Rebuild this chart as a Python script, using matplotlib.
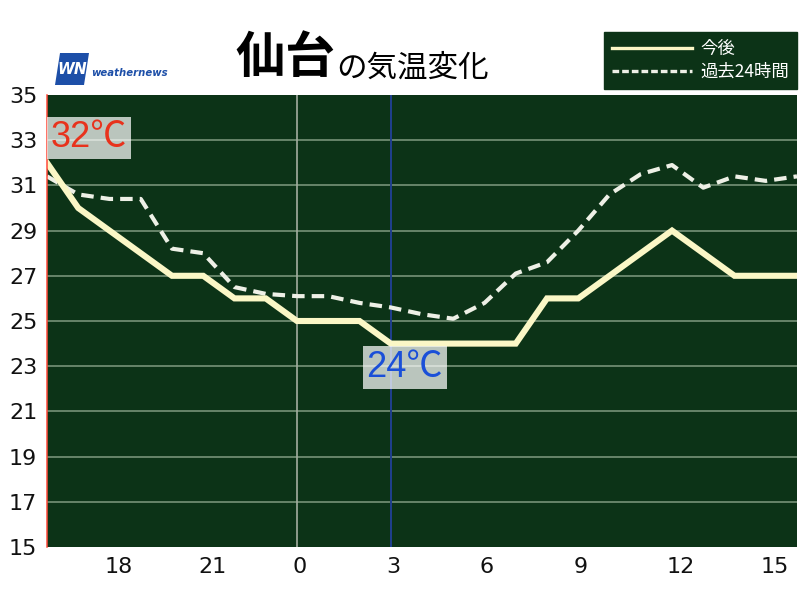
import matplotlib
matplotlib.use("Agg")
import matplotlib.pyplot as plt
from matplotlib.lines import Line2D
from matplotlib.patches import Polygon
from matplotlib.transforms import ScaledTranslation

# Hourly temperatures from 16:00 through 16:00 the next day
hour_index = list(range(25))
forecast = [32, 30, 29, 28, 27, 27, 26, 26, 25, 25, 25, 24, 24,
            24, 24, 24, 26, 26, 27, 28, 29, 28, 27, 27, 27]
past24 = [31.4, 30.6, 30.4, 30.4, 28.2, 28.0, 26.5, 26.2, 26.1, 26.1, 25.8,
          25.6, 25.3, 25.1, 25.8, 27.1, 27.6, 29.0, 30.6, 31.5, 31.9, 30.9,
          31.4, 31.2, 31.4]
tick_pos = [2, 5, 8, 11, 14, 17, 20, 23]
tick_labels = ["18", "21", "0", "3", "6", "9", "12", "15"]
y_ticks = list(range(15, 36, 2))
max_idx, max_val = 0, 32
min_idx, min_val = 11, 24

CJK = ["Noto Sans CJK JP", "DejaVu Sans"]
BG = "#0c3317"

fig = plt.figure(figsize=(8, 6), dpi=100)
fig.patch.set_facecolor("white")
ax = fig.add_axes([47 / 800, 1 - 547 / 600, 750 / 800, 452 / 600])
ax.set_facecolor(BG)
ax.set_xlim(0, 24)
ax.set_ylim(15, 35)

for y in y_ticks[1:-1]:
    ax.axhline(y, color="#7f9b80", lw=1.1, zorder=1)
ax.axvline(8, color="#a3ad9f", lw=1.2, zorder=1)
ax.axvline(11, color="#20408f", lw=1.4, zorder=1)

ax.plot(hour_index, past24, color="#eef0e6", lw=3.0, dashes=(3.0, 1.7),
        zorder=3, solid_capstyle="butt")
ax.plot(hour_index, forecast, color="#fbf7c6", lw=4.4, zorder=4,
        solid_joinstyle="miter")

for s in ["top", "right", "bottom"]:
    ax.spines[s].set_visible(False)
ax.spines["left"].set_color("#ff4a3a")
ax.spines["left"].set_linewidth(1.1)
ax.spines["left"].set_zorder(5)

ax.set_yticks(y_ticks)
ax.set_xticks(tick_pos)
ax.set_xticklabels(tick_labels)
ax.tick_params(axis="both", length=0, labelsize=16, colors="#111111")
ax.tick_params(axis="y", pad=7)
ax.tick_params(axis="x", pad=7)
shift = ScaledTranslation(-5 / 100, 0, fig.dpi_scale_trans)
for lab in ax.get_xticklabels():
    lab.set_horizontalalignment("left")
    lab.set_transform(lab.get_transform() + shift)

box = dict(boxstyle="square,pad=0.1", facecolor="white", alpha=0.72,
           edgecolor="none")
ax.annotate(f"{max_val}℃", xy=(max_idx, max_val), xytext=(42, 25),
            textcoords="offset pixels", ha="center", va="center",
            fontsize=26, color="#e8321c", family=["Liberation Sans"] + CJK,
            bbox=box, zorder=6)
ax.annotate(f"{min_val}℃", xy=(min_idx, min_val), xytext=(14, -24),
            textcoords="offset pixels", ha="center", va="center",
            fontsize=26, color="#1a4fd8", family=["Liberation Sans"] + CJK,
            bbox=box, zorder=6)

# Title
fig.text(235 / 800, 1 - 84 / 600, "仙台", fontsize=36, fontweight="bold",
         family=CJK, color="black", va="bottom", ha="left")
fig.text(336 / 800, 1 - 84 / 600, "の気温変化", fontsize=22,
         family=CJK, color="black", va="bottom", ha="left")

# Logo
logo = Polygon([(60 / 800, 1 - 53 / 600), (89 / 800, 1 - 53 / 600),
                (84 / 800, 1 - 85 / 600), (55 / 800, 1 - 85 / 600)],
               closed=True, transform=fig.transFigure, facecolor="#1d4fa8",
               edgecolor="none")
fig.patches.append(logo)
fig.text(72 / 800, 1 - 70 / 600, "WN", fontsize=11, fontweight="bold",
         style="italic", color="white", ha="center", va="center",
         family="DejaVu Sans")
fig.text(91 / 800, 1 - 73 / 600, "weathernews", fontsize=7.3,
         fontweight="bold", style="italic", color="#1d4fa8", ha="left",
         va="center", family="DejaVu Sans")

# Legend
handles = [Line2D([], [], color="#fbf7c6", lw=2.4),
           Line2D([], [], color="#eef0e6", lw=2.4, dashes=(2.0, 0.9))]
leg = fig.legend(handles, ["今後", "過去24時間"], loc="upper right",
                 bbox_to_anchor=(797 / 800, 1 - 32 / 600),
                 bbox_transform=fig.transFigure,
                 prop={"family": CJK, "size": 12.5},
                 frameon=True, fancybox=False, facecolor=BG, edgecolor=BG,
                 framealpha=1, handlelength=4.6, handletextpad=0.5,
                 labelspacing=0.3, borderpad=0.45, borderaxespad=0)
for t in leg.get_texts():
    t.set_color("white")

fig.savefig("out.png", dpi=100, facecolor="white")
